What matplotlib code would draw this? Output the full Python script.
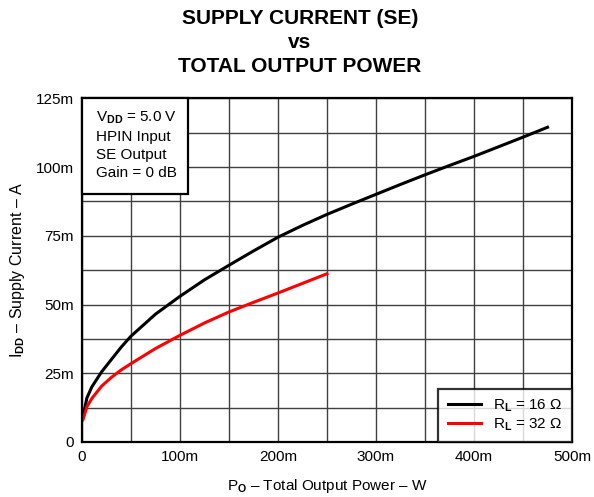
import matplotlib
matplotlib.use("Agg")
import matplotlib.pyplot as plt
from matplotlib.patches import Rectangle
from matplotlib.ticker import MultipleLocator, FuncFormatter

plt.rcParams['font.family'] = ['Liberation Sans', 'DejaVu Sans']
plt.rcParams['mathtext.fontset'] = 'custom'
plt.rcParams['mathtext.rm'] = 'Liberation Sans'
plt.rcParams['mathtext.it'] = 'Liberation Sans'
plt.rcParams['mathtext.bf'] = 'Liberation Sans:bold'

# output power (W) and supply current (A)
po_16 = [0.001, 0.005, 0.010, 0.020, 0.030, 0.040, 0.050, 0.075, 0.100, 0.125,
         0.150, 0.175, 0.200, 0.225, 0.250, 0.275, 0.300, 0.325, 0.350, 0.375,
         0.400, 0.425, 0.450, 0.475]
idd_16 = [0.0091, 0.0160, 0.0200, 0.0255, 0.0300, 0.0345, 0.0385, 0.0465, 0.0530,
          0.0590, 0.0643, 0.0695, 0.0745, 0.0788, 0.0828, 0.0865, 0.0901, 0.0937,
          0.0972, 0.1006, 0.1039, 0.1074, 0.1109, 0.1145]
po_32 = [0.001, 0.005, 0.010, 0.020, 0.030, 0.040, 0.050, 0.075, 0.100, 0.125,
         0.150, 0.175, 0.200, 0.225, 0.250]
idd_32 = [0.0081, 0.0128, 0.0158, 0.0203, 0.0235, 0.0262, 0.0285, 0.0340, 0.0388,
          0.0433, 0.0473, 0.0508, 0.0542, 0.0577, 0.0612]

fig = plt.figure(figsize=(5.94, 4.97), dpi=100)
ax = fig.add_axes([0.138, 0.1107, 0.825, 0.6913])

ax.plot(po_16, idd_16, color='black', lw=2.2, label=r'R$_\mathbf{L}$ = 16 Ω', zorder=3)
ax.plot(po_32, idd_32, color='#ff0000', lw=2.2, label=r'R$_\mathbf{L}$ = 32 Ω', zorder=3)

ax.set_xlim(0, 0.5)
ax.set_ylim(0, 0.125)
ax.xaxis.set_major_locator(MultipleLocator(0.1))
ax.xaxis.set_minor_locator(MultipleLocator(0.05))
ax.yaxis.set_major_locator(MultipleLocator(0.025))
ax.yaxis.set_minor_locator(MultipleLocator(0.0125))
milli = FuncFormatter(lambda v, p: '0' if abs(v) < 1e-9 else f'{v*1000:.0f}m')
ax.xaxis.set_major_formatter(milli)
ax.yaxis.set_major_formatter(milli)
ax.grid(which='both', color='#404040', lw=1.0)
ax.tick_params(which='both', length=0, labelsize=11, pad=6)
for s in ax.spines.values():
    s.set_linewidth(1.6)
    s.set_zorder(4)

ax.set_xlabel(r'P$_\mathbf{O}$ – Total Output Power – W', fontsize=11, labelpad=9)
ax.set_ylabel(r'I$_\mathbf{DD}$ – Supply Current – A', fontsize=11.5, labelpad=6)

fig.text(0.505, 0.981, 'SUPPLY CURRENT (SE)\nvs\nTOTAL OUTPUT POWER', ha='center', va='top',
         fontsize=15, fontweight='bold', linespacing=1.32)

# condition box, flush with the top-left corner of the axes
ax.add_patch(Rectangle((0, 0.722), 0.2163, 0.278, transform=ax.transAxes,
                       fc='white', ec='black', lw=1.6, zorder=5, clip_on=False))
ax.text(0.0296, 0.968, 'V$_\\mathbf{DD}$ = 5.0 V\nHPIN Input\nSE Output\nGain = 0 dB',
        transform=ax.transAxes, ha='left', va='top', fontsize=11, linespacing=1.36,
        zorder=6)

leg = ax.legend(loc='lower right', fontsize=11, frameon=True, fancybox=False,
                edgecolor='black', borderaxespad=0, handlelength=2.2,
                borderpad=0.6, labelspacing=0.15)
leg.get_frame().set_linewidth(1.6)
leg.set_zorder(5)

fig.savefig('out.png', dpi=100)
